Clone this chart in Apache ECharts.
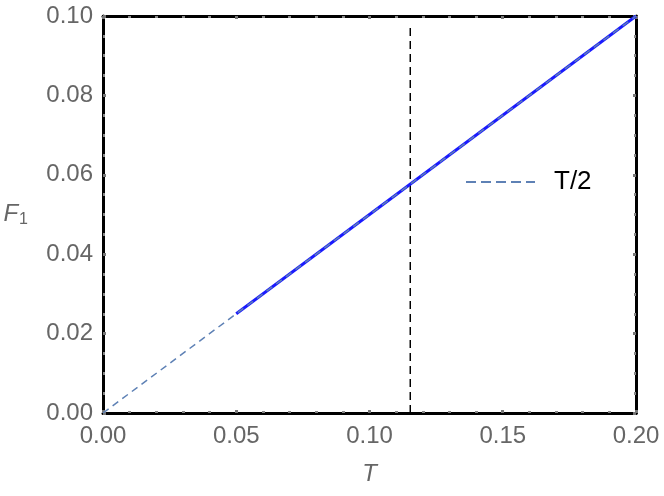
<!DOCTYPE html>
<html><head><meta charset="utf-8">
<script src="https://cdn.jsdelivr.net/npm/echarts@6/dist/echarts.min.js"></script>
<style>html,body{margin:0;padding:0;background:#fff}#c{width:664px;height:496px}</style>
</head><body><div id="c"></div>
<script>
var halfT = [[0, 0], [0.2, 0.1]];
var F1 = [[0.05, 0.025], [0.2, 0.1]];
var vline = [[0.1153, 0], [0.1153, 0.098]];
var xTicks = [0, 0.05, 0.10, 0.15, 0.20];
var yTicks = [0, 0.02, 0.04, 0.06, 0.08, 0.10];

var chart = echarts.init(document.getElementById('c'));
var font = 'Liberation Sans, Arial, sans-serif';
var tickStyle = {show: true, inside: true, length: 3, lineStyle: {color: '#777', width: 3}};
var minorStyle = {show: true, splitNumber: 5, length: 2, lineStyle: {color: '#888', width: 3}};
function baseX(pos, labels) {
  return {type: 'value', min: 0, max: 0.2, interval: 0.05, position: pos,
    axisLine: {show: true, onZero: false, lineStyle: {color: '#000', width: 3}},
    axisTick: tickStyle, minorTick: minorStyle, splitLine: {show: false},
    axisLabel: {show: labels, color: '#666', fontSize: 24, fontFamily: font, margin: 11,
      formatter: function(v){ return v.toFixed(2); }}};
}
function baseY(pos, labels) {
  return {type: 'value', min: 0, max: 0.1, interval: 0.02, position: pos,
    axisLine: {show: true, onZero: false, lineStyle: {color: '#000', width: 3}},
    axisTick: tickStyle, minorTick: {show: true, splitNumber: 4, length: 2, lineStyle: {color: '#888', width: 3}},
    splitLine: {show: false},
    axisLabel: {show: labels, color: '#666', fontSize: 24, fontFamily: font, margin: 10,
      formatter: function(v){ return v.toFixed(2); }}};
}
var x0 = baseX('bottom', true);
x0.name = 'T'; x0.nameLocation = 'middle'; x0.nameGap = 49;
x0.nameTextStyle = {color: '#666', fontSize: 24, fontFamily: font, fontStyle: 'italic'};
var y0 = baseY('left', true);
y0.name = '{f|F}{s|1}'; y0.nameLocation = 'middle'; y0.nameRotate = 0; y0.nameGap = 75;
y0.nameTextStyle = {rich: {f: {color: '#666', fontSize: 24, fontFamily: font, fontStyle: 'italic'},
  s: {color: '#666', fontSize: 16, fontFamily: font, padding: [10, 0, 0, 1]}}};

chart.setOption({
  animation: false,
  backgroundColor: '#fff',
  grid: {left: 103, right: 28, top: 16, bottom: 83, containLabel: false},
  xAxis: [x0, baseX('top', false)],
  yAxis: [y0, baseY('right', false)],
  legend: {show: true, left: 460, top: 164, itemWidth: 69, itemHeight: 26, itemGap: 10,
    data: ['T/2'], itemStyle: {opacity: 0},
    lineStyle: {type: [10, 5], width: 2},
    textStyle: {color: '#000', fontSize: 26, fontFamily: font, padding: [4, 0, 0, 14]}},
  series: [
    {type: 'line', name: 'vline', data: vline, symbol: 'none', silent: true,
     lineStyle: {color: '#000', width: 1.5, type: [8, 5]}, z: 2},
    {type: 'line', name: 'F1', data: F1, symbol: 'none',
     lineStyle: {color: '#1a1aff', width: 3}, z: 3},
    {type: 'line', name: 'T/2', data: halfT, symbol: 'none',
     lineStyle: {color: '#5E81B5', width: 1.5, type: [7, 5]}, z: 4}
  ]
});
</script></body></html>
